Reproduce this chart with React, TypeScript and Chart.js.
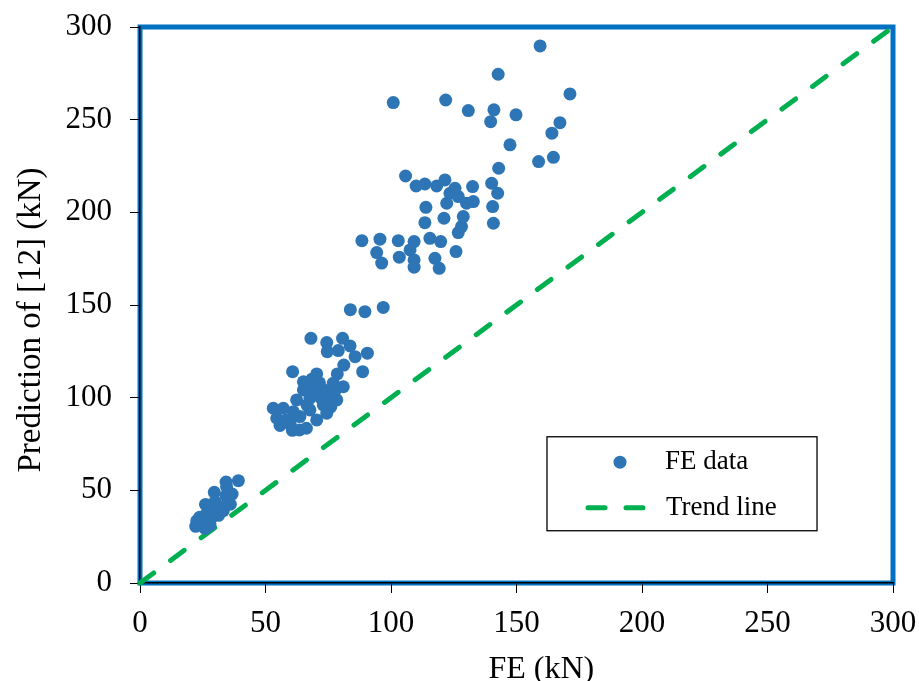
import React, { useEffect, useRef } from "react";
import { Chart, registerables } from "chart.js";

Chart.register(...registerables);

// FE (kN) values of each data point
const feValues: number[] = [
  22.2, 22.6, 23.8, 25.0, 25.9, 26.1, 26.6, 27.9, 28.5, 29.6, 29.9, 30.5, 31.3, 32.0, 33.2, 34.3, 34.5, 35.2, 36.0, 36.7, 34.3, 39.2,
  53.1, 54.5, 55.8, 57.1, 58.4, 59.8, 60.7, 60.8, 61.1, 62.4, 63.5, 63.7, 65.1, 65.1, 66.3, 66.5, 67.7, 67.7, 68.1, 68.5, 69.0,
  70.4, 70.4, 70.4, 71.5, 72.0, 73.0, 73.5, 74.4, 74.4, 74.6, 75.7, 76.0, 77.0, 77.5, 78.4, 78.6, 79.0, 80.7, 81.0, 81.2, 83.7,
  85.7, 88.7, 90.6,
  83.8, 89.6, 96.9,
  88.4, 94.3, 95.6, 96.3, 102.9, 103.3, 105.8, 107.6, 109.2, 109.2, 109.2, 110.0, 113.5, 113.5, 113.9, 115.5, 117.5, 118.2,
  119.2, 119.8, 121.1, 121.5, 122.2, 123.5, 125.5, 125.9, 126.8, 126.8, 128.1, 128.8, 130.1, 132.5, 132.8, 140.1, 140.5, 140.8,
  142.5, 142.9,
  100.9, 121.8, 130.8, 139.7, 141.0, 142.7, 147.4, 149.8, 158.8, 159.4, 164.1, 164.7, 167.3, 171.3,
];

// Prediction of [12] (kN) for each data point
const predictionValues: number[] = [
  30.6, 33.5, 35.5, 32.5, 29.5, 42.4, 37.6, 31.3, 35.3, 48.9, 43.9, 40.5, 36.5, 41.2, 39.0, 47.1, 52.0, 45.5, 42.5, 48.0, 54.5, 55.2,
  94.3, 88.9, 85.0, 94.3, 88.0, 86.0, 82.4, 114.0, 92.4, 98.8, 82.6, 89.8, 108.6, 104.2, 83.5, 96.0, 99.7, 93.4, 132.0, 110.0, 106.0,
  112.8, 103.2, 88.0, 108.0, 100.0, 96.1, 104.0, 129.7, 91.6, 124.8, 101.5, 95.0, 107.8, 103.0, 98.8, 112.8, 125.4, 132.0, 105.9, 117.6, 127.9,
  122.1, 114.0, 124.0,
  147.5, 146.4, 148.7,
  184.7, 178.3, 185.5, 172.6, 184.7, 175.8, 219.6, 179.7, 184.2, 174.3, 170.4, 214.2, 215.3, 194.4, 202.7, 186.0, 175.2, 214.2,
  169.8, 184.2, 196.8, 217.5, 204.9, 210.3, 213.0, 178.8, 208.5, 189.1, 192.3, 197.7, 204.9, 213.9, 205.8, 215.7, 203.1, 194.1,
  210.3, 223.8,
  259.2, 260.6, 254.9, 248.9, 255.3, 274.5, 236.4, 252.6, 227.4, 289.8, 242.7, 229.7, 248.4, 263.9,
];

// Trend line (y = x)
const trendX: number[] = [0, 300];
const trendY: number[] = [0, 300];

const axisMin = 0;
const axisMax = 300;
const tickStep = 50;

const seriesLabels = ["FE data", "Trend line"];
const xTitle = "FE (kN)";
const yTitle = "Prediction of [12] (kN)";

const FONT = "'Liberation Serif', 'Times New Roman', serif";
const POINT_COLOR = "#2E75B6";
const LINE_COLOR = "#00B050";
const FRAME_COLOR = "#0070C0";

const framePlugin = {
  id: "frame",
  beforeDraw(chart: any) {
    const { ctx, chartArea } = chart;
    ctx.save();
    ctx.strokeStyle = FRAME_COLOR;
    ctx.lineWidth = 5;
    ctx.strokeRect(chartArea.left, chartArea.top, chartArea.right - chartArea.left, chartArea.bottom - chartArea.top);
    ctx.restore();
  },
};

const titlesPlugin = {
  id: "axisTitles",
  afterDraw(chart: any) {
    const { ctx, chartArea } = chart;
    const w = chartArea.right - chartArea.left;
    const h = chartArea.bottom - chartArea.top;
    ctx.save();
    ctx.fillStyle = "#000";
    // x title
    ctx.font = `32px ${FONT}`;
    ctx.textAlign = "center";
    ctx.textBaseline = "alphabetic";
    ctx.fillText(xTitle, chartArea.left + w * 0.533, chartArea.bottom + 95);
    // y title
    ctx.translate(31, chartArea.top + h * 0.527);
    ctx.rotate(-Math.PI / 2);
    ctx.font = `33px ${FONT}`;
    ctx.textAlign = "center";
    ctx.textBaseline = "middle";
    ctx.fillText(yTitle, 0, 0);
    ctx.restore();
  },
};

const legendPlugin = {
  id: "customLegend",
  afterDraw(chart: any) {
    const { ctx, chartArea } = chart;
    const w = chartArea.right - chartArea.left;
    const h = chartArea.bottom - chartArea.top;
    const bx = chartArea.left + w * 0.5405;
    const by = chartArea.top + h * 0.737;
    const bw = w * 0.3586;
    const bh = h * 0.169;
    ctx.save();
    ctx.fillStyle = "#ffffff";
    ctx.fillRect(bx, by, bw, bh);
    ctx.strokeStyle = "#000000";
    ctx.lineWidth = 1.3;
    ctx.strokeRect(bx, by, bw, bh);

    const row1 = by + bh * 0.27;
    const row2 = by + bh * 0.755;
    // marker
    ctx.fillStyle = POINT_COLOR;
    ctx.beginPath();
    ctx.arc(bx + 73, row1, 6.5, 0, Math.PI * 2);
    ctx.fill();
    // dashed line sample
    ctx.strokeStyle = LINE_COLOR;
    ctx.lineWidth = 5;
    ctx.lineCap = "round";
    ctx.setLineDash([17, 21]);
    ctx.beginPath();
    ctx.moveTo(bx + 41, row2);
    ctx.lineTo(bx + 98, row2);
    ctx.stroke();
    ctx.setLineDash([]);
    // texts
    ctx.fillStyle = "#000000";
    ctx.font = `27px ${FONT}`;
    ctx.textBaseline = "middle";
    ctx.textAlign = "left";
    ctx.fillText(seriesLabels[0], bx + 118, row1);
    ctx.fillText(seriesLabels[1], bx + 119, row2);
    ctx.restore();
  },
};

export default function App() {
  const canvasRef = useRef<HTMLCanvasElement | null>(null);

  useEffect(() => {
    const canvas = canvasRef.current;
    if (!canvas) return;
    const points = feValues.map((x, i) => ({ x, y: predictionValues[i] }));
    const trend = trendX.map((x, i) => ({ x, y: trendY[i] }));

    const chart = new Chart(canvas, {
      type: "scatter",
      data: {
        datasets: [
          {
            type: "line",
            label: seriesLabels[1],
            data: trend,
            borderColor: LINE_COLOR,
            borderWidth: 5,
            borderDash: [17, 21],
            borderCapStyle: "round",
            pointRadius: 0,
            fill: false,
            clip: false,
            order: 2,
          } as any,
          {
            type: "scatter",
            label: seriesLabels[0],
            data: points,
            pointRadius: 6.5,
            pointHoverRadius: 6.5,
            pointBackgroundColor: POINT_COLOR,
            pointBorderWidth: 0,
            borderWidth: 0,
            order: 1,
          } as any,
        ],
      },
      options: {
        responsive: false,
        animation: false,
        events: [],
        layout: { padding: { top: 27, right: 26, left: 0, bottom: 0 } },
        plugins: {
          legend: { display: false },
          tooltip: { enabled: false },
        },
        scales: {
          x: {
            type: "linear",
            min: axisMin,
            max: axisMax,
            afterFit: (scale: any) => {
              scale.height = 98;
              scale.paddingLeft = 0;
              scale.paddingRight = 0;
            },
            ticks: {
              stepSize: tickStep,
              color: "#000",
              font: { family: FONT, size: 31 },
              padding: 12,
              maxRotation: 0,
            },
            grid: {
              display: true,
              drawOnChartArea: false,
              drawTicks: true,
              tickLength: 10,
              color: "#000",
              lineWidth: 1,
            },
            border: { display: true, color: "#000", width: 1.5 },
            title: { display: false },
          },
          y: {
            type: "linear",
            min: axisMin,
            max: axisMax,
            afterFit: (scale: any) => {
              scale.width = 140;
              scale.paddingTop = 0;
              scale.paddingBottom = 0;
            },
            ticks: {
              stepSize: tickStep,
              color: "#000",
              font: { family: FONT, size: 31 },
              padding: 18,
            },
            grid: {
              display: true,
              drawOnChartArea: false,
              drawTicks: true,
              tickLength: 10,
              color: "#000",
              lineWidth: 1,
            },
            border: { display: true, color: "#000", width: 1.5 },
            title: { display: false },
          },
        },
      },
      plugins: [framePlugin, titlesPlugin, legendPlugin],
    });

    return () => {
      chart.destroy();
    };
  }, []);

  return (
    <div style={{ position: "absolute", left: 0, top: 0, width: 919, height: 681, background: "#fff" }}>
      <canvas ref={canvasRef} width={919} height={681} style={{ display: "block", width: 919, height: 681 }} />
    </div>
  );
}
